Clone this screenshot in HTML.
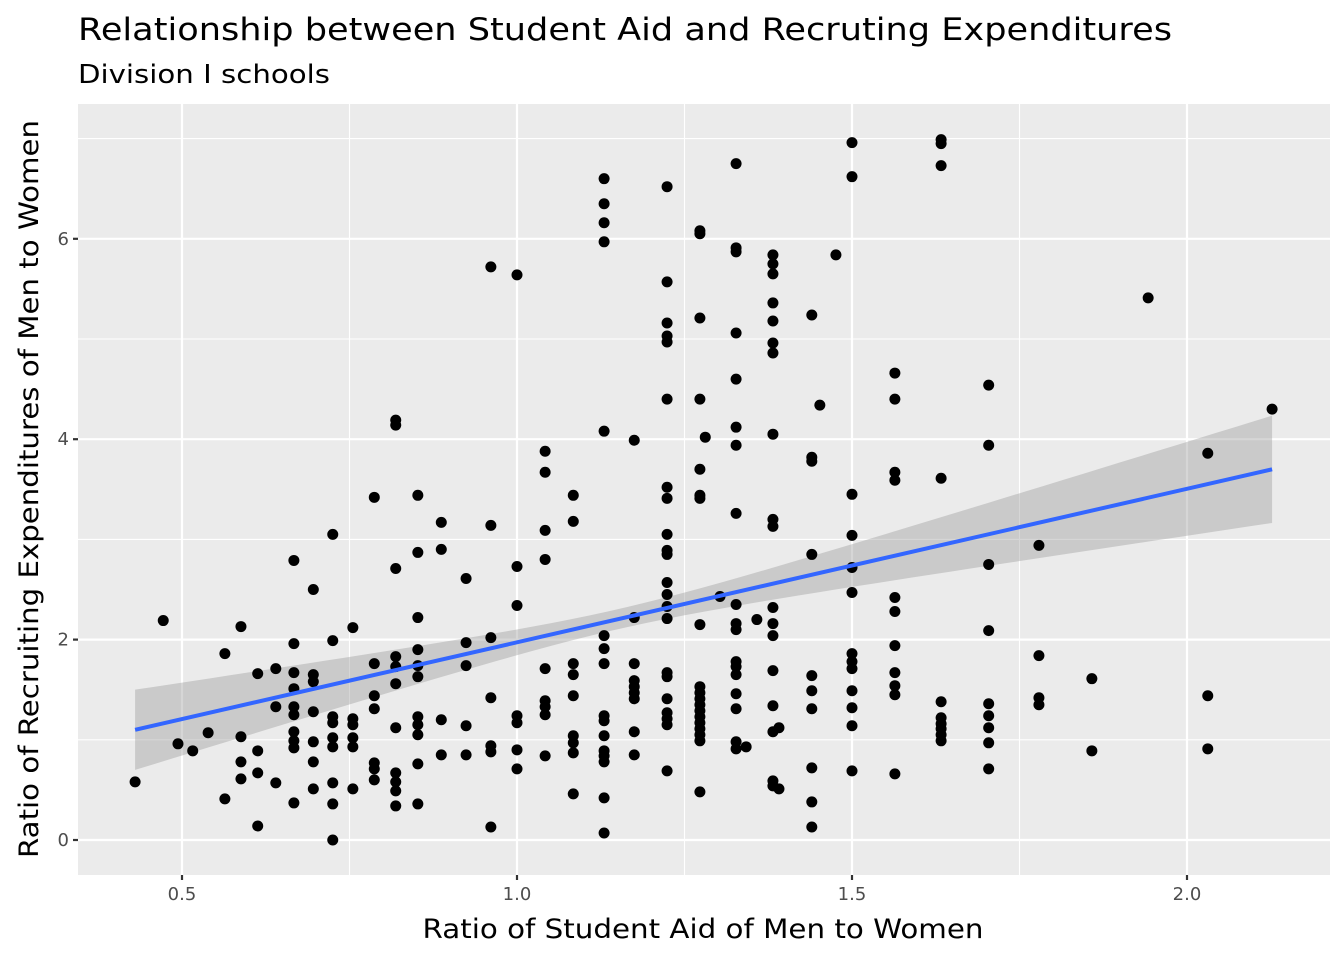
<!DOCTYPE html>
<html><head><meta charset="utf-8"><style>
body{margin:0;background:#fff;}
svg{display:block;font-family:"DejaVu Sans","Liberation Sans",sans-serif;}
</style></head><body>
<svg id="chart" width="1344" height="960">
<text x="78" y="40" font-size="31" textLength="1094" lengthAdjust="spacingAndGlyphs" fill="#000">Relationship between Student Aid and Recruting Expenditures</text>
<text x="78" y="83" font-size="26" textLength="252" lengthAdjust="spacingAndGlyphs" fill="#000">Division I schools</text>
<rect x="78" y="104" width="1252" height="771" fill="#ebebeb"/>
<g id="grid"></g><g id="band"></g><g id="pts"></g><g id="axes"></g>
<text x="703" y="938" font-size="27" textLength="561" lengthAdjust="spacingAndGlyphs" text-anchor="middle" fill="#000">Ratio of Student Aid of Men to Women</text>
<text transform="translate(38,489) rotate(-90)" font-size="27" textLength="738" lengthAdjust="spacingAndGlyphs" text-anchor="middle" fill="#000">Ratio of Recruiting Expenditures of Men to Women</text>
</svg>
<script>
const xTicks=[0.5,1.0,1.5,2.0];
const xTickLabels=["0.5","1.0","1.5","2.0"];
const yTicks=[0,2,4,6];
const yTickLabels=["0","2","4","6"];
const xMinor=[0.75,1.25,1.75];
const yMinor=[1,3,5,7];
const fitSlope=1.532, fitIntercept=0.441, fitXMin=0.43, fitXMax=2.127;
const bandA=0.01, bandB=0.29, bandXMean=1.15;
const colX=[0.430,0.472,0.494,0.516,0.539,0.564,0.588,0.613,0.640,0.667,0.696,0.725,0.755,0.787,0.819,0.852,0.887,0.924,0.961,1.0,1.042,1.084,1.130,1.175,1.224,1.273,1.281,1.303,1.327,1.342,1.358,1.382,1.391,1.440,1.452,1.476,1.5,1.564,1.633,1.704,1.779,1.858,1.942,2.031,2.127];
const colY=[
[0.58],[2.19],[0.96],[0.89],[1.07],[1.86,0.41],[2.13,1.03,0.78,0.61],[1.66,0.89,0.67,0.14],[1.71,1.33,0.57],
[2.79,1.96,1.67,1.51,1.33,1.25,1.08,0.99,0.92,0.37],[2.50,1.65,1.58,1.28,0.98,0.78,0.51],
[3.05,1.99,1.23,1.17,1.02,0.93,0.57,0.36,0.0],[2.12,1.21,1.15,1.02,0.93,0.51],[3.42,1.76,1.44,1.31,0.77,0.71,0.60],
[4.19,4.14,2.71,1.83,1.73,1.56,1.12,0.67,0.58,0.49,0.34],[3.44,2.87,2.22,1.90,1.74,1.63,1.23,1.15,1.05,0.76,0.36],
[3.17,2.90,1.20,0.85],[2.61,1.97,1.74,1.14,0.85],[5.72,3.14,2.02,1.42,0.94,0.88,0.13],[5.64,2.73,2.34,1.24,1.17,0.90,0.71],
[3.88,3.67,3.09,2.80,1.71,1.39,1.33,1.25,0.84],[3.44,3.18,1.76,1.65,1.44,1.04,0.97,0.87,0.46],
[6.60,6.35,6.16,5.97,4.08,2.04,1.91,1.76,1.24,1.19,1.04,0.89,0.84,0.78,0.42,0.07],
[3.99,2.22,1.76,1.59,1.53,1.47,1.41,1.08,0.85],
[6.52,5.57,5.16,5.03,4.97,4.40,3.52,3.41,3.05,2.89,2.85,2.57,2.45,2.33,2.21,1.67,1.63,1.41,1.27,1.21,1.15,0.69],
[6.08,6.05,5.21,4.40,3.70,3.44,3.41,2.15,1.53,1.47,1.41,1.35,1.29,1.23,1.17,1.11,1.05,0.99,0.48],
[4.02],[2.43],
[6.75,5.91,5.87,5.06,4.60,4.12,3.94,3.26,2.35,2.16,2.10,1.78,1.73,1.65,1.46,1.31,0.98,0.91],
[0.93],[2.20],
[5.84,5.75,5.65,5.36,5.18,4.96,4.86,4.05,3.20,3.13,2.32,2.16,2.04,1.69,1.34,1.08,0.59,0.54],
[1.12,0.51],[5.24,3.82,3.78,2.85,1.64,1.49,1.31,0.72,0.38,0.13],[4.34],[5.84],
[6.96,6.62,3.45,3.04,2.72,2.47,1.86,1.78,1.71,1.49,1.32,1.14,0.69],
[4.66,4.40,3.67,3.59,2.42,2.28,1.94,1.67,1.54,1.45,0.66],
[6.99,6.95,6.73,3.61,1.38,1.22,1.16,1.11,1.05,0.99],
[4.54,3.94,2.75,2.09,1.36,1.24,1.12,0.97,0.71],[2.94,1.84,1.42,1.35],[1.61,0.89],[5.41],[3.86,1.44,0.91],[4.30]
];
const NS='http://www.w3.org/2000/svg';
const sx=v=>517+(v-1)*670, sy=v=>840-v*100.2;
const L=78,R=1330,T=104,B=875;
function mk(tag,parent,attrs){const e=document.createElementNS(NS,tag);for(const k in attrs)e.setAttribute(k,attrs[k]);document.getElementById(parent).appendChild(e);return e;}
xMinor.forEach(v=>{const e=mk('line','grid',{x1:sx(v),x2:sx(v),y1:T,y2:B,stroke:'#fff','stroke-width':1.1});

});
yMinor.forEach(v=>{const e=mk('line','grid',{x1:L,x2:R,y1:sy(v),y2:sy(v),stroke:'#fff','stroke-width':1.1});

});
xTicks.forEach((v,i)=>{const e=mk('line','grid',{x1:sx(v),x2:sx(v),y1:T,y2:B,stroke:'#fff','stroke-width':2.2});


const t=mk('line','axes',{x1:sx(v),x2:sx(v),y1:B,y2:B+5,stroke:'#333','stroke-width':2.2});


const l=mk('text','axes',{x:sx(v),y:B+25,'font-size':18,'text-anchor':'middle',fill:'#4d4d4d'});l.textContent=xTickLabels[i];

});
yTicks.forEach((v,i)=>{const e=mk('line','grid',{x1:L,x2:R,y1:sy(v),y2:sy(v),stroke:'#fff','stroke-width':2.2});


const t=mk('line','axes',{x1:L-5,x2:L,y1:sy(v),y2:sy(v),stroke:'#333','stroke-width':2.2});


const l=mk('text','axes',{x:L-9,y:sy(v)+6,'font-size':18,'text-anchor':'end',fill:'#4d4d4d'});l.textContent=yTickLabels[i];

});
const up=[],lo=[];const N=60;
for(let i=0;i<=N;i++){const x=fitXMin+(fitXMax-fitXMin)*i/N;const y=fitIntercept+fitSlope*x;const h=Math.sqrt(bandA+bandB*(x-bandXMean)**2);
up.push(sx(x)+','+sy(y+h));lo.unshift(sx(x)+','+sy(y-h));}
const band=mk('polygon','band',{points:up.concat(lo).join(' '),fill:'#999',opacity:0.4});


colX.forEach((x,i)=>colY[i].forEach(y=>{const c=mk('circle','pts',{cx:sx(x),cy:sy(y),r:5.5,fill:'#000'});

}));
const fl=mk('line','pts',{x1:sx(fitXMin),y1:sy(fitIntercept+fitSlope*fitXMin),x2:sx(fitXMax),y2:sy(fitIntercept+fitSlope*fitXMax),stroke:'#3366ff','stroke-width':4});


</script>
</body></html>
